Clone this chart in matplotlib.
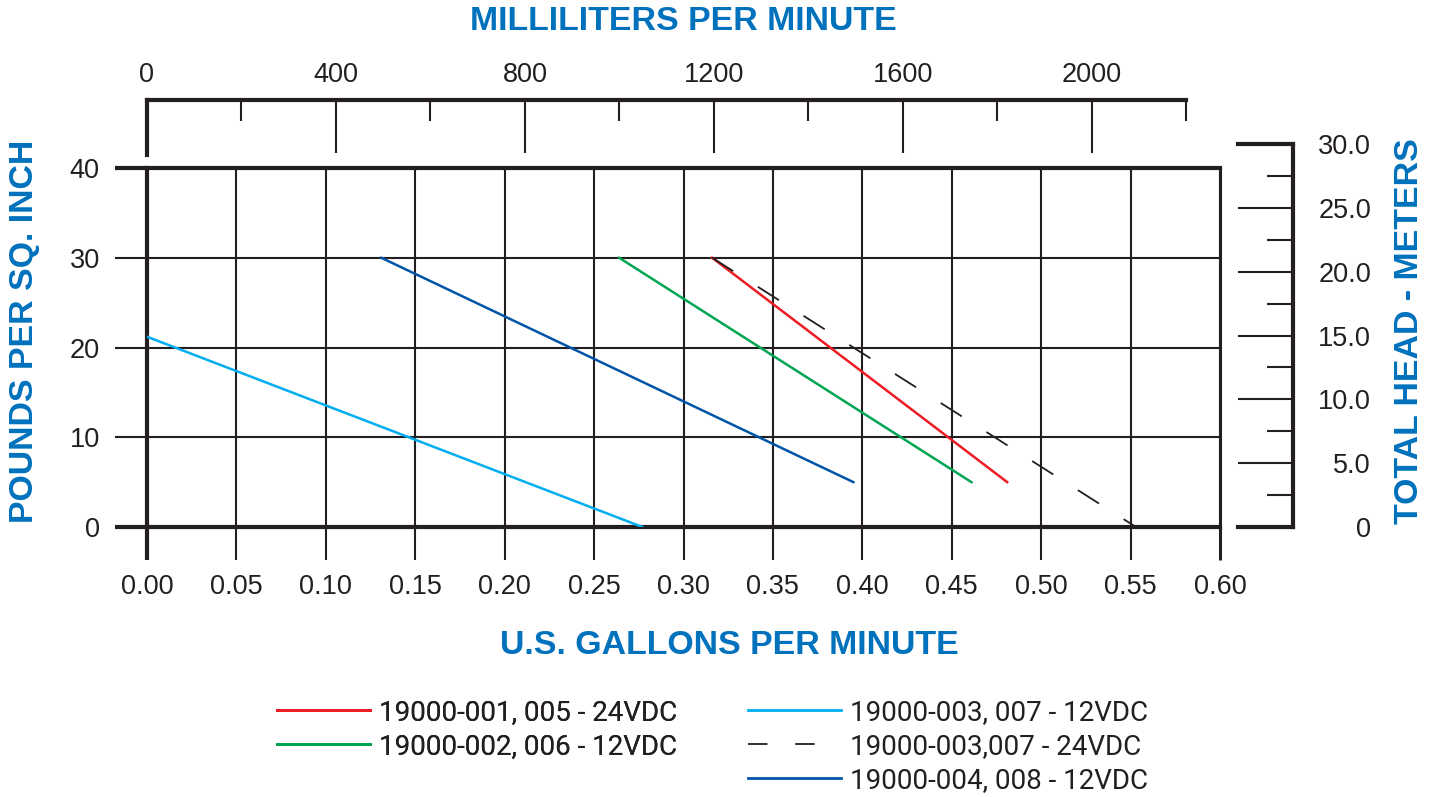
import numpy as np
import matplotlib
matplotlib.use("Agg")
import matplotlib.pyplot as plt
from matplotlib.lines import Line2D

# ---------------- data ----------------
gpm_red = [0.316, 0.481]
psi_red = [30, 5]
gpm_green = [0.264, 0.461]
psi_green = [30, 5]
gpm_lblue = [0.0, 0.277]
psi_lblue = [21.2, 0]
gpm_dash = [0.316, 0.553]
psi_dash = [30, 0]
gpm_dblue = [0.131, 0.395]
psi_dblue = [30, 5]

labels = ["19000-001, 005 - 24VDC", "19000-002, 006 - 12VDC",
          "19000-003, 007 - 12VDC", "19000-003,007 - 24VDC",
          "19000-004, 008 - 12VDC"]

gpm_ticks = [0.00, 0.05, 0.10, 0.15, 0.20, 0.25, 0.30, 0.35, 0.40, 0.45, 0.50, 0.55, 0.60]
psi_ticks = [0, 10, 20, 30, 40]
ml_major = [0, 400, 800, 1200, 1600, 2000]
ml_minor = [200, 600, 1000, 1400, 1800, 2200]
m_major = [0, 5, 10, 15, 20, 25, 30]
m_minor = [2.5, 7.5, 12.5, 17.5, 22.5, 27.5]

ML_PER_GAL = 3785.41
M_PER_PSI = 0.70307

# ---------------- style ----------------
W, H = 1442, 797
PX = 0.72  # points per pixel at dpi 100
INK = "#231f20"
BLUE_T = "#0071bc"
C_RED, C_GREEN, C_LBLUE, C_DBLUE = "#ed1c24", "#00a651", "#00aeef", "#0054a6"
TICKFONT = ["Liberation Sans", "DejaVu Sans"]
TITLEFONT = ["Liberation Sans", "DejaVu Sans"]
LEGFONT = ["Roboto", "DejaVu Sans"]
TFS = 19.5

fig = plt.figure(figsize=(W / 100, H / 100), dpi=100)
fig.patch.set_facecolor("white")


def frac(x0, y0, x1, y1):
    return [x0 / W, 1 - y1 / H, (x1 - x0) / W, (y1 - y0) / H]


# ---------------- main axes ----------------
ax = fig.add_axes(frac(147, 168, 1220, 527))
ax.set_xlim(0, 0.6)
ax.set_ylim(0, 40)
ax.set_xticks(gpm_ticks)
ax.set_xticklabels([f"{v:.2f}" for v in gpm_ticks])
ax.set_yticks(psi_ticks)
ax.set_yticklabels([str(v) for v in psi_ticks])
ax.grid(True, color=INK, lw=1.5, zorder=1)
ax.set_axisbelow(True)
ax.tick_params(axis="x", direction="out", length=33 * PX, width=1.5, color=INK,
               pad=10, labelsize=TFS, labelcolor=INK)
ax.tick_params(axis="y", direction="out", length=32 * PX, width=1.5, color=INK,
               pad=11, labelsize=TFS, labelcolor=INK)
for lab in ax.get_xticklabels() + ax.get_yticklabels():
    lab.set_family(TICKFONT)
for sp in ["left", "bottom", "top"]:
    ax.spines[sp].set_linewidth(3)
    ax.spines[sp].set_color(INK)
ax.spines["right"].set_linewidth(2.2)
ax.spines["right"].set_color(INK)
xt = ax.xaxis.get_major_ticks()
xt[0].tick1line.set_markeredgewidth(3)
xt[-1].tick1line.set_markeredgewidth(2.2)
yt = ax.yaxis.get_major_ticks()
yt[0].tick1line.set_markeredgewidth(3)
yt[-1].tick1line.set_markeredgewidth(3)

lw = 1.8
ax.plot(gpm_red, psi_red, color=C_RED, lw=lw, zorder=3)
ax.plot(gpm_green, psi_green, color=C_GREEN, lw=lw, zorder=3)
ax.plot(gpm_lblue, psi_lblue, color=C_LBLUE, lw=lw, zorder=3)
dlw = 1.3
ax.plot(gpm_dash, psi_dash, color=INK, lw=dlw, zorder=3,
        linestyle=(0, (18 / dlw, 21 / dlw)))
ax.plot(gpm_dblue, psi_dblue, color=C_DBLUE, lw=lw, zorder=3)

# ---------------- top ml axis ----------------
axt = fig.add_axes(frac(147, 100, 1220, 155))
axt.patch.set_visible(False)
axt.set_xlim(0, 0.6 * ML_PER_GAL)
axt.set_ylim(0, 1)
axt.set_yticks([])
axt.xaxis.set_ticks_position("top")
axt.set_xticks(ml_major)
axt.set_xticklabels([str(v) for v in ml_major])
axt.set_xticks(ml_minor, minor=True)
axt.tick_params(axis="x", which="major", direction="in", length=53 * PX, width=1.5,
                color=INK, pad=8.5, labelsize=TFS, labelcolor=INK, top=True,
                bottom=False, labeltop=True, labelbottom=False)
axt.tick_params(axis="x", which="minor", direction="in", length=21 * PX, width=1.5,
                color=INK, top=True, bottom=False)
for lab in axt.get_xticklabels():
    lab.set_family(TICKFONT)
axt.spines["bottom"].set_visible(False)
axt.spines["right"].set_visible(False)
axt.spines["top"].set_linewidth(3)
axt.spines["top"].set_color(INK)
axt.spines["top"].set_bounds(0, 2200)
axt.spines["left"].set_linewidth(3)
axt.spines["left"].set_color(INK)

# ---------------- right meters axis ----------------
h_px = 30 / M_PER_PSI * (527 - 168) / 40
axr = fig.add_axes(frac(1238, 527 - h_px, 1293, 527))
axr.patch.set_visible(False)
axr.set_ylim(0, 30)
axr.set_xticks([])
axr.yaxis.set_ticks_position("right")
axr.set_yticks(m_major)
axr.set_yticklabels(["0"] + [f"{v:.1f}" for v in m_major[1:]])
axr.set_yticks(m_minor, minor=True)
axr.tick_params(axis="y", which="major", direction="in", length=55 * PX, width=1.5,
                color=INK, pad=78 * PX, labelsize=TFS, labelcolor=INK,
                right=True, left=False, labelright=True, labelleft=False)
axr.tick_params(axis="y", which="minor", direction="in", length=26 * PX, width=1.5,
                color=INK, right=True, left=False)
for lab in axr.get_yticklabels():
    lab.set_family(TICKFONT)
    lab.set_horizontalalignment("right")
axr.spines["left"].set_visible(False)
for sp in ["right", "top", "bottom"]:
    axr.spines[sp].set_linewidth(3)
    axr.spines[sp].set_color(INK)

# ---------------- titles ----------------
tkw = dict(color=BLUE_T, fontsize=24.4, fontweight="bold", family=TITLEFONT,
           ha="center", va="center")
fig.text(683 / W, 1 - 22 / H, "MILLILITERS PER MINUTE", **tkw)
fig.text(729 / W, 1 - 646 / H, "U.S. GALLONS PER MINUTE", **tkw)
fig.text(25 / W, 1 - 331 / H, "POUNDS PER SQ. INCH", rotation=90, **tkw)
fig.text(1410 / W, 1 - 331 / H, "TOTAL HEAD - METERS", rotation=90, **tkw)

# ---------------- legend ----------------
h_red = Line2D([], [], color=C_RED, lw=2.0)
h_green = Line2D([], [], color=C_GREEN, lw=2.0)
h_lblue = Line2D([], [], color=C_LBLUE, lw=2.0)
h_dash = Line2D([], [], color=INK, lw=1.3, linestyle=(0, (14 / 1.3, 20 / 1.3)))
h_dblue = Line2D([], [], color=C_DBLUE, lw=2.0)

LFS = 20
lkw = dict(loc="upper left", frameon=False, borderpad=0, borderaxespad=0,
           handlelength=93 * PX / LFS, handletextpad=9 * PX / LFS,
           labelspacing=0.25, prop={"family": LEGFONT, "size": LFS},
           labelcolor=INK)
leg1 = fig.legend([h_red, h_green], labels[:2],
                  bbox_to_anchor=(277 / W, 1 - 699 / H), **lkw)
fig.add_artist(leg1)
leg2 = fig.legend([h_lblue, h_dash, h_dblue], labels[2:],
                  bbox_to_anchor=(748 / W, 1 - 699 / H), **lkw)

fig.savefig("out.png", dpi=100, facecolor="white")
